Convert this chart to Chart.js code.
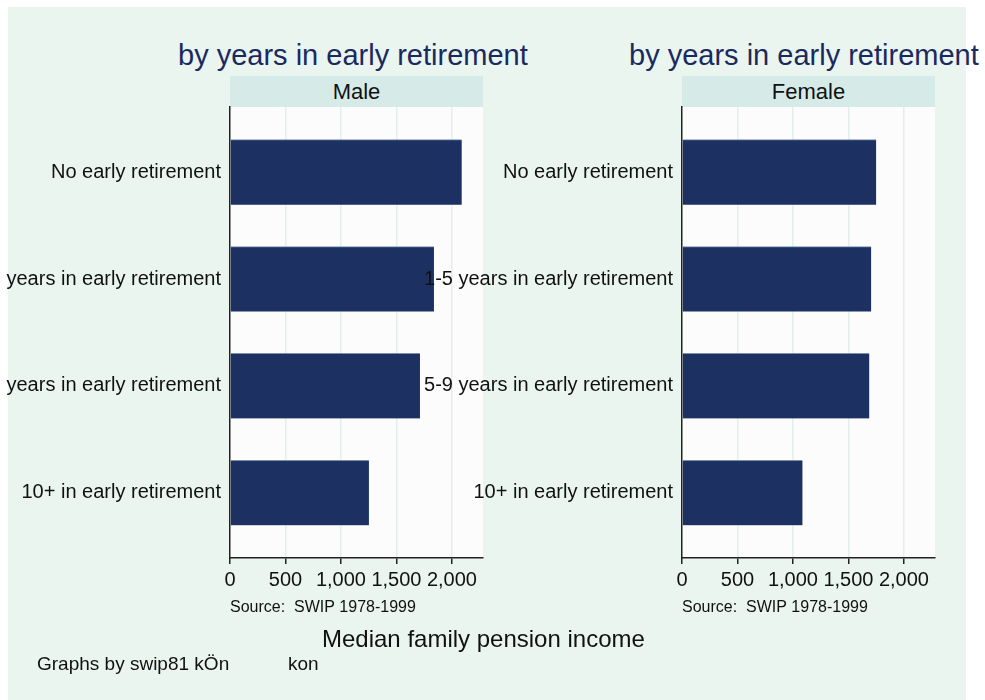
<!DOCTYPE html>
<html>
<head>
<meta charset="utf-8">
<script src="https://cdn.jsdelivr.net/npm/chart.js@4"></script>
<style>
body { margin:0; background:#fff; width:985px; height:700px; overflow:hidden; position:relative;
       font-family:'Liberation Sans', Arial, sans-serif; }
#bg { position:absolute; left:8px; top:7px; width:958px; height:693px; background:#eaf5f0; }
canvas { position:absolute; left:0; top:0; }
.txt { position:absolute; white-space:nowrap; line-height:1; color:#111; }
.title { font-size:29px; color:#1b2a5e; top:41px; }
.strip { position:absolute; top:76px; height:31px; width:253px; background:#d6ebe8;
         text-align:center; line-height:31px; font-size:22px; color:#111; }
</style>
</head>
<body>
<div id="bg"></div>
<div class="txt title" style="left:178px">by years in early retirement</div>
<div class="txt title" style="left:629px">by years in early retirement</div>
<div class="strip" style="left:230px">Male</div>
<div class="strip" style="left:682px">Female</div>
<canvas id="male" width="985" height="700"></canvas>
<canvas id="female" width="985" height="700"></canvas>
<div class="txt" style="left:322px; top:627px; font-size:24px">Median family pension income</div>
<div class="txt" style="left:37px; top:654px; font-size:19px">Graphs by swip81 kÖn</div>
<div class="txt" style="left:288px; top:654px; font-size:19px">kon</div>

<script>
// ---- data ----
var categories   = ['No early retirement', '1-5 years in early retirement',
                    '5-9 years in early retirement', '10+ in early retirement'];
var maleIncome   = [2088, 1838, 1712, 1252];
var femaleIncome = [1750, 1705, 1688, 1086];
var xTicks       = [0, 500, 1000, 1500, 2000];
var xMax         = 2280;
var sourceNote   = 'Source:  SWIP 1978-1999';

var FONT = "'Liberation Sans', Arial, sans-serif";

// white plot region behind the bars
var plotBg = {
    id: 'plotBg',
    beforeDraw: function (chart) {
        var a = chart.chartArea, ctx = chart.ctx;
        ctx.save();
        ctx.fillStyle = '#fbfcfb';
        ctx.fillRect(a.left, a.top, a.right - a.left, a.bottom - a.top);
        ctx.restore();
    }
};

// yWidth: width of the label box left of the plot (labels are clipped to it)
function makePanel(id, values, yWidth, padRight) {
    return new Chart(document.getElementById(id), {
        type: 'bar',
        data: {
            datasets: [{
                data: values.map(function (v, i) { return { x: v, y: i }; }),
                backgroundColor: '#1c3162',
                borderColor: '#7d8db0',
                borderWidth: { top: 1, right: 0, bottom: 0, left: 0 },
                borderSkipped: false,
                barThickness: 65
            }]
        },
        options: {
            indexAxis: 'y',
            responsive: false,
            animation: false,
            layout: { padding: { left: 0, right: padRight, top: 107, bottom: 82 } },
            plugins: { legend: { display: false }, tooltip: { enabled: false } },
            scales: {
                x: {
                    type: 'linear', min: 0, max: xMax,
                    afterBuildTicks: function (s) { s.ticks = xTicks.map(function (v) { return { value: v }; }); },
                    afterFit: function (s) { s.height = 60; },
                    grid: {
                        color: function (c) { return c.tick && c.tick.value === 0 ? 'rgba(0,0,0,0)' : '#e3efea'; },
                        lineWidth: 1.5, tickColor: '#222', tickLength: 6, tickWidth: 1.5
                    },
                    border: { display: true, color: '#222', width: 1.5 },
                    ticks: {
                        autoSkip: false, maxRotation: 0, minRotation: 0, padding: 4,
                        color: '#111', font: { size: 20, family: FONT },
                        callback: function (v) { return v.toLocaleString('en-US'); }
                    },
                    title: {
                        display: true, text: sourceNote, align: 'start', color: '#111',
                        font: { size: 16, family: FONT }, padding: { top: 0, bottom: 1 }
                    }
                },
                y: {
                    type: 'linear', reverse: true, min: -0.61, max: 3.61,
                    offset: false,
                    afterBuildTicks: function (s) { s.ticks = categories.map(function (c, i) { return { value: i }; }); },
                    afterFit: function (s) { s.width = yWidth; },
                    grid: { display: false, drawTicks: false, offset: false },
                    border: { display: true, color: '#222', width: 1.5 },
                    ticks: {
                        padding: 9, color: '#111', font: { size: 20, family: FONT },
                        callback: function (v) { return categories[v]; }
                    }
                }
            }
        },
        plugins: [plotBg]
    });
}

makePanel('male', maleIncome, 230, 502);
makePanel('female', femaleIncome, 682, 50);
</script>
</body>
</html>
